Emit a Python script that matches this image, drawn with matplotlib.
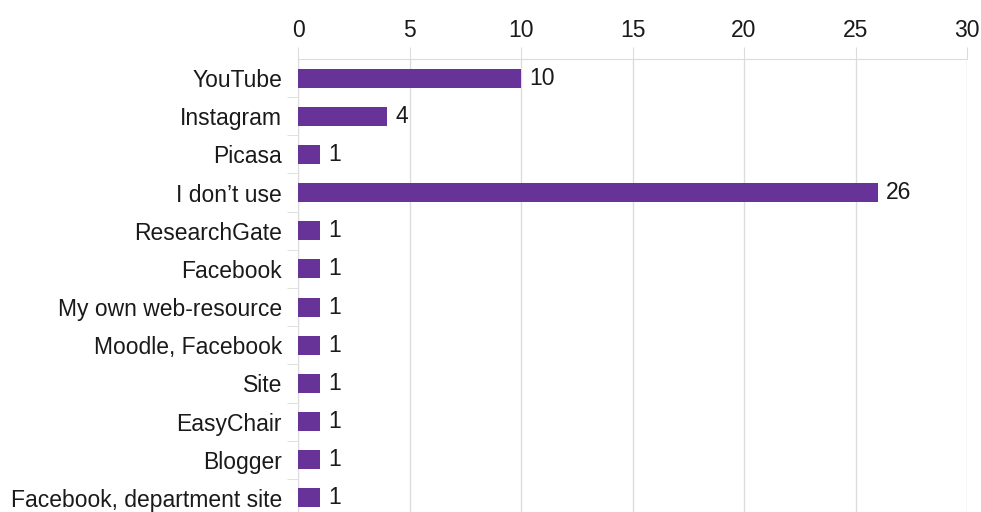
import numpy as np
import matplotlib.pyplot as plt

# Dados do gráfico
categorias = ['YouTube', 'Instagram', 'Picasa', 'I don\u2019t use', 'ResearchGate', 'Facebook',
              'My own web-resource', 'Moodle, Facebook', 'Site', 'EasyChair', 'Blogger',
              'Facebook, department site']
valores = [10, 4, 1, 26, 1, 1, 1, 1, 1, 1, 1, 1]
x_ticks = [0, 5, 10, 15, 20, 25, 30]

cor_barra = '#673399'
cor_grade = '#dcdcdc'
tam_fonte = 16.5

plt.rcParams['font.family'] = ['Liberation Sans', 'DejaVu Sans']

fig = plt.figure(figsize=(9.81, 5.12), dpi=100)
ax = fig.add_axes([0.3038, -0.0098, 0.682, 0.8946])

y = np.arange(len(categorias))
ax.barh(y, valores, height=0.5, color=cor_barra, zorder=3)

for yi, v in zip(y, valores):
    ax.text(v + 0.35, yi, str(v), va='center', ha='left', fontsize=tam_fonte, color='#1a1a1a')

ax.set_xlim(0, 30)
ax.set_ylim(len(categorias) - 0.5, -0.5)
ax.set_xticks(x_ticks)
ax.xaxis.tick_top()
ax.tick_params(axis='x', labelsize=tam_fonte, length=9, color=cor_grade, pad=3, labelcolor='#1a1a1a')
ax.set_yticks(y)
ax.set_yticklabels(categorias)
ax.set_yticks(np.arange(len(categorias) - 1) + 0.5, minor=True)
ax.tick_params(axis='y', which='major', length=0, labelsize=tam_fonte, pad=11.5, labelcolor='#1a1a1a')
ax.tick_params(axis='y', which='minor', length=8, color=cor_grade)

ax.grid(axis='x', color=cor_grade, linewidth=1, zorder=0)
for lado in ['right', 'bottom']:
    ax.spines[lado].set_visible(False)
ax.spines['top'].set_color(cor_grade)
ax.spines['left'].set_color(cor_grade)

plt.savefig('out.png', dpi=100)
